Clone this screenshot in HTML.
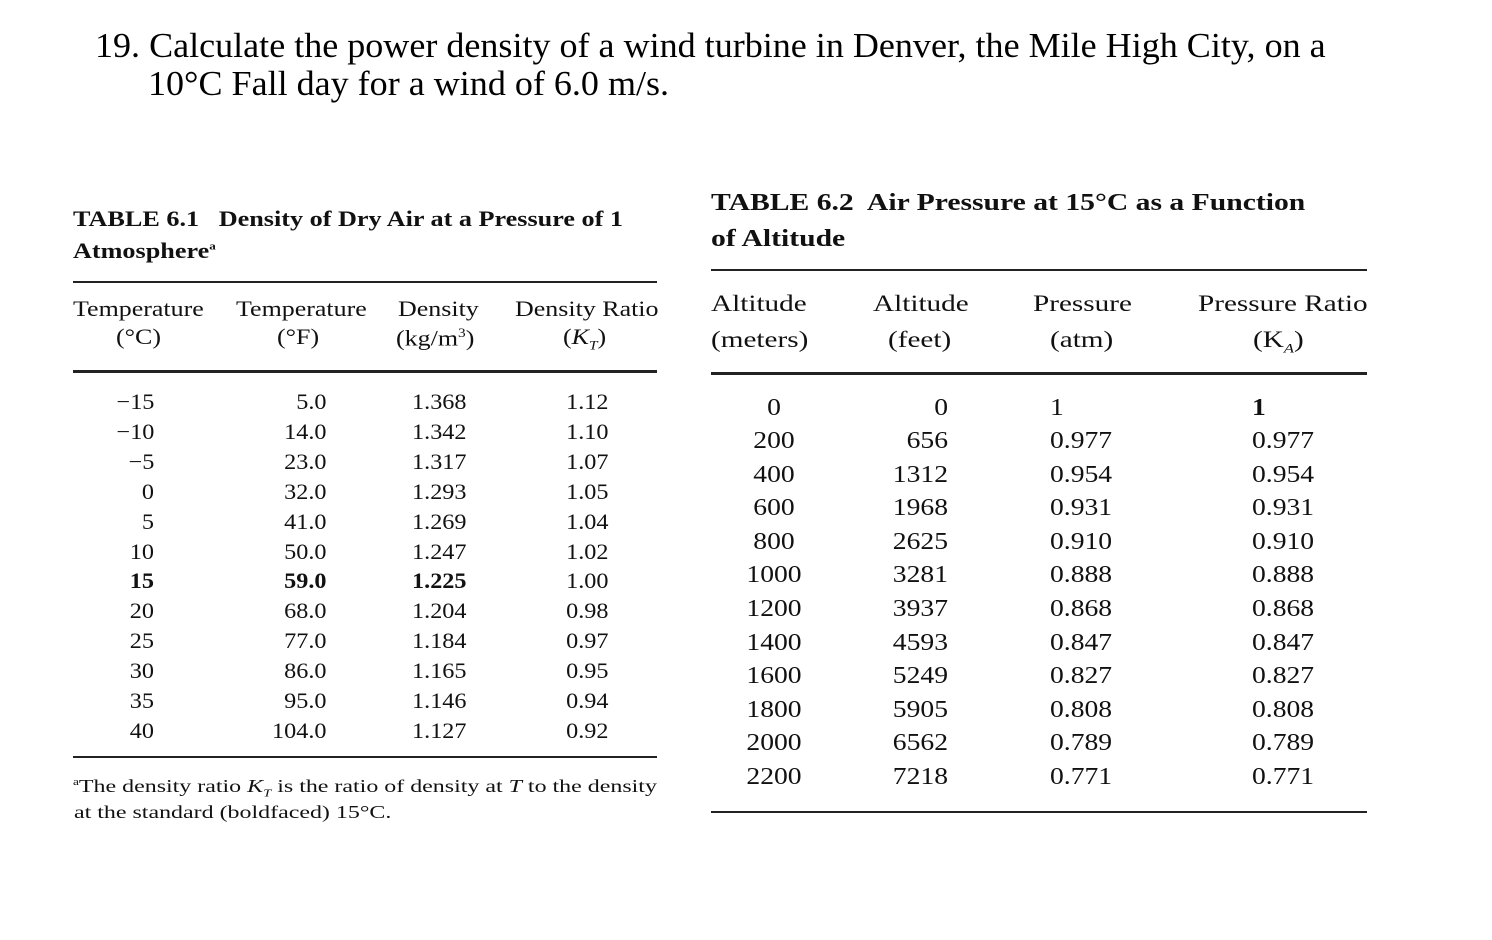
<!DOCTYPE html>
<html><head><meta charset="utf-8">
<style>
body{margin:0;background:#fff;width:1492px;height:940px;position:relative;overflow:hidden;font-family:"Liberation Serif",serif;color:#111}
.a{position:absolute;white-space:nowrap;line-height:1;transform-origin:left top}
.t{font-size:35px;color:#000;transform:scaleX(1.03)}
.cap{font-size:22px;font-weight:bold;transform:scaleX(1.19)}
.cap2{font-size:24px;font-weight:bold;transform:scaleX(1.235)}
.h{font-size:22px;transform:scaleX(1.18)}
.h2{font-size:23px;transform:scaleX(1.27)}
.c{font-size:22px;transform:scaleX(1.1)}
.c2{font-size:24px;transform:scaleX(1.15)}
.rule{position:absolute;background:#222;height:2px}
.fn{font-size:18px;transform:scaleX(1.33)}
</style></head><body>
<div class="a t" style="left:95px;top:28px">19. Calculate the power density of a wind turbine in Denver, the Mile High City, on a</div>
<div class="a t" style="left:148px;top:66px">10°C Fall day for a wind of 6.0 m/s.</div>

<div class="a cap" style="left:73px;top:208px">TABLE 6.1&nbsp;&nbsp; Density of Dry Air at a Pressure of 1</div>
<div class="a cap" style="left:73px;top:240px">Atmosphere<sup style="font-size:11px">a</sup></div>
<div class="rule" style="left:73px;top:281px;width:584px"></div>
<div class="a h" style="left:73px;top:298px">Temperature</div>
<div class="a h" style="left:116px;top:326px">(°C)</div>
<div class="a h" style="left:236px;top:298px">Temperature</div>
<div class="a h" style="left:277px;top:326px">(°F)</div>
<div class="a h" style="left:398px;top:298px">Density</div>
<div class="a h" style="left:396px;top:326px">(kg/m<sup style="font-size:13px">3</sup>)</div>
<div class="a h" style="left:515px;top:298px">Density Ratio</div>
<div class="a h" style="left:563px;top:326px">(<i>K<sub style="font-size:13px">T</sub></i>)</div>
<div class="rule" style="left:73px;top:370px;width:584px;height:3px"></div>
<div class="rule" style="left:73px;top:756px;width:584px"></div>
<div class="a fn" style="left:73px;top:777px"><sup style="font-size:10px">a</sup>The density ratio <i>K<sub style="font-size:11px">T</sub></i> is the ratio of density at <i>T</i> to the density</div>
<div class="a fn" style="left:74px;top:803px">at the standard (boldfaced) 15°C.</div>

<div class="a cap2" style="left:711px;top:191px">TABLE 6.2&nbsp; Air Pressure at 15°C as a Function</div>
<div class="a cap2" style="left:711px;top:227px">of Altitude</div>
<div class="rule" style="left:711px;top:269px;width:656px"></div>
<div class="a h2" style="left:711px;top:292px">Altitude</div>
<div class="a h2" style="left:711px;top:328px">(meters)</div>
<div class="a h2" style="left:873px;top:292px">Altitude</div>
<div class="a h2" style="left:888px;top:328px">(feet)</div>
<div class="a h2" style="left:1033px;top:292px">Pressure</div>
<div class="a h2" style="left:1050px;top:328px">(atm)</div>
<div class="a h2" style="left:1198px;top:292px">Pressure Ratio</div>
<div class="a h2" style="left:1253px;top:328px">(K<sub style="font-size:13px"><i>A</i></sub>)</div>
<div class="rule" style="left:711px;top:372px;width:656px;height:3px"></div>
<div class="rule" style="left:711px;top:811px;width:656px"></div>

<script>
const tempC=["−15","−10","−5","0","5","10","15","20","25","30","35","40"];
const tempF=["5.0","14.0","23.0","32.0","41.0","50.0","59.0","68.0","77.0","86.0","95.0","104.0"];
const dens=["1.368","1.342","1.317","1.293","1.269","1.247","1.225","1.204","1.184","1.165","1.146","1.127"];
const kt=["1.12","1.10","1.07","1.05","1.04","1.02","1.00","0.98","0.97","0.95","0.94","0.92"];
const altM=["0","200","400","600","800","1000","1200","1400","1600","1800","2000","2200"];
const altFt=["0","656","1312","1968","2625","3281","3937","4593","5249","5905","6562","7218"];
const press=["1","0.977","0.954","0.931","0.910","0.888","0.868","0.847","0.827","0.808","0.789","0.771"];
const ka=["1","0.977","0.954","0.931","0.910","0.888","0.868","0.847","0.827","0.808","0.789","0.771"];
function put(txt,x,y,align,name,bold,cls){
  const d=document.createElement('div');
  d.className='a '+cls;
  d.textContent=txt;
  d.style.top=y+'px';
  if(align==='r'){d.style.right=(1492-x)+'px';d.style.transformOrigin='right top';}
  else if(align==='c'){d.style.left=(x-60)+'px';d.style.width='120px';d.style.textAlign='center';d.style.transformOrigin='center top';}
  else d.style.left=x+'px';
  if(bold)d.style.fontWeight='bold';
  
  
  document.body.appendChild(d);
}
for(let i=0;i<tempC.length;i++){
  const y=391+i*29.9;
  const b=(i===6);
  put(tempC[i],154,y,'r','cell-temp-c',b,'c');
  put(tempF[i],326,y,'r','cell-temp-f',b,'c');
  put(dens[i],466,y,'r','cell-density',b,'c');
  put(kt[i],608,y,'r','cell-density-ratio',false,'c');
}
for(let i=0;i<altM.length;i++){
  const y=(i===0?396:429+(i-1)*33.6);
  put(altM[i],774,y,'c','cell-altitude-m',false,'c2');
  put(altFt[i],948,y,'r','cell-altitude-ft',false,'c2');
  put(press[i],1050,y,'l','cell-pressure',false,'c2');
  put(ka[i],1252,y,'l','cell-pressure-ratio',i===0,'c2');
}
</script>
</body></html>
